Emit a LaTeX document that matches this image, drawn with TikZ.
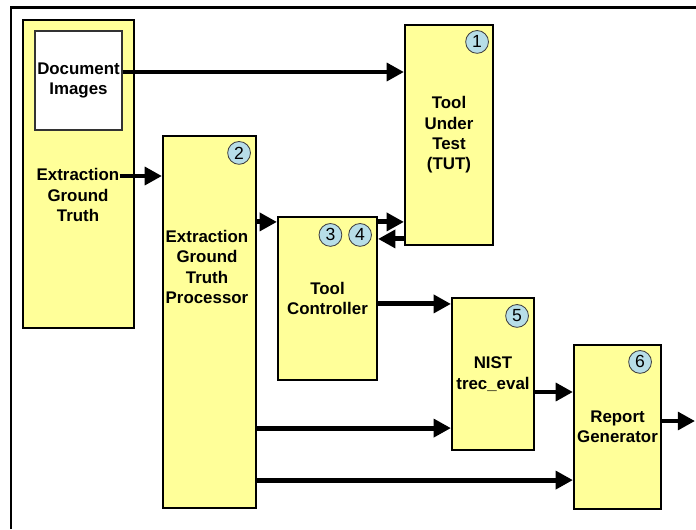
\documentclass[tikz,border=0pt]{standalone}
\usepackage{fontspec}
\setmainfont{Liberation Sans}
\usetikzlibrary{arrows.meta,positioning,calc}
\definecolor{boxyellow}{HTML}{FFFF99}
\definecolor{stepblue}{HTML}{B7DEE8}

\begin{document}
\begin{tikzpicture}[x=0.025cm, y=-0.025cm,
    block/.style={draw, line width=1.5pt, fill=boxyellow, rectangle, inner sep=0pt, align=center, font=\fontsize{12}{14.5}\selectfont\bfseries},
    lbl/.style={align=center, font=\fontsize{12}{14.5}\selectfont\bfseries, inner sep=0pt},
    num/.style={draw=black!75, line width=0.6pt, fill=stepblue, circle, minimum size=0.57cm, inner sep=0pt, font=\fontsize{12.5}{12.5}\selectfont},
    flow/.style={line width=3.5pt, -{Triangle[length=0.43cm, width=0.44cm]}}]
    \useasboundingbox (0,0) rectangle (696,529);
    \draw[line width=2pt] (11,529) -- (11,7.5) -- (696,7.5);

    % inputs
    \node (gt) [block, minimum width=2.775cm, minimum height=7.7cm] at (78.5,174) {};
    \node (docimg) [block, fill=white, line width=0.8pt, draw=black!80, minimum width=2.175cm, minimum height=2.475cm] at (78.5,80.5) {Document\\Images};
    \node (gtlbl) [lbl] at (78,195) {Extraction\\Ground\\Truth};

    % processing blocks
    \node (proc) [block, minimum width=2.325cm, minimum height=9.3cm] at (209.5,322) {};
    \node (proclbl) [lbl] at (207,267) {Extraction\\Ground\\Truth\\Processor};
    \node (tut) [block, minimum width=2.2cm, minimum height=5.5cm] at (449,135) {Tool\\Under\\Test\\(TUT)};
    \node (ctrl) [block, minimum width=2.475cm, minimum height=4.075cm] at (327.5,298.5) {Tool\\Controller};
    \node (nist) [block, minimum width=2.05cm, minimum height=3.8cm] at (493,374) {NIST\\trec\_eval};
    \node (report) [block, minimum width=2.175cm, minimum height=4.1cm] at (617.5,427) {Report\\Generator};

    % step numbers
    \node (n1) [num] at ($(tut.north east)+(-17,18)$) {1};
    \node (n2) [num] at ($(proc.north east)+(-18,18)$) {2};
    \node (n4) [num] at ($(ctrl.north east)+(-18,19)$) {4};
    \node (n3) [num, left=0.15cm of n4] {3};
    \node (n5) [num] at ($(nist.north east)+(-18,19)$) {5};
    \node (n6) [num] at ($(report.north east)+(-22,18)$) {6};

    % connectors
    \draw[flow] ($(docimg.east)+(0,-8.5)$) coordinate (a1) -- (a1 -| tut.west);
    \draw[flow] ($(gtlbl.east)+(0,-19)$) coordinate (a2) -- (a2 -| proc.west);
    \coordinate (a3) at ($(ctrl.north west)+(0,6)$);
    \draw[flow] (a3 -| proc.east) -- (a3);
    \draw[flow] (ctrl.east |- a3) -- (a3 -| tut.west);
    \coordinate (a4) at ($(ctrl.north east)+(0,23)$);
    \draw[flow] (a4 -| tut.west) -- (a4);
    \coordinate (a5) at ($(nist.north west)+(0,7)$);
    \draw[flow] (a5 -| ctrl.east) -- (a5);
    \draw[flow] ($(nist.east)+(0,18)$) coordinate (a6) -- (a6 -| report.west);
    \coordinate (a7) at ($(nist.south west)+(0,-23)$);
    \draw[flow] (a7 -| proc.east) -- (a7);
    \coordinate (a8) at ($(report.south west)+(0,-30)$);
    \draw[flow] (a8 -| proc.east) -- (a8);
    \coordinate (out) at (695,421);
    \draw[flow] (report.east |- out) -- (out);
\end{tikzpicture}
\end{document}
